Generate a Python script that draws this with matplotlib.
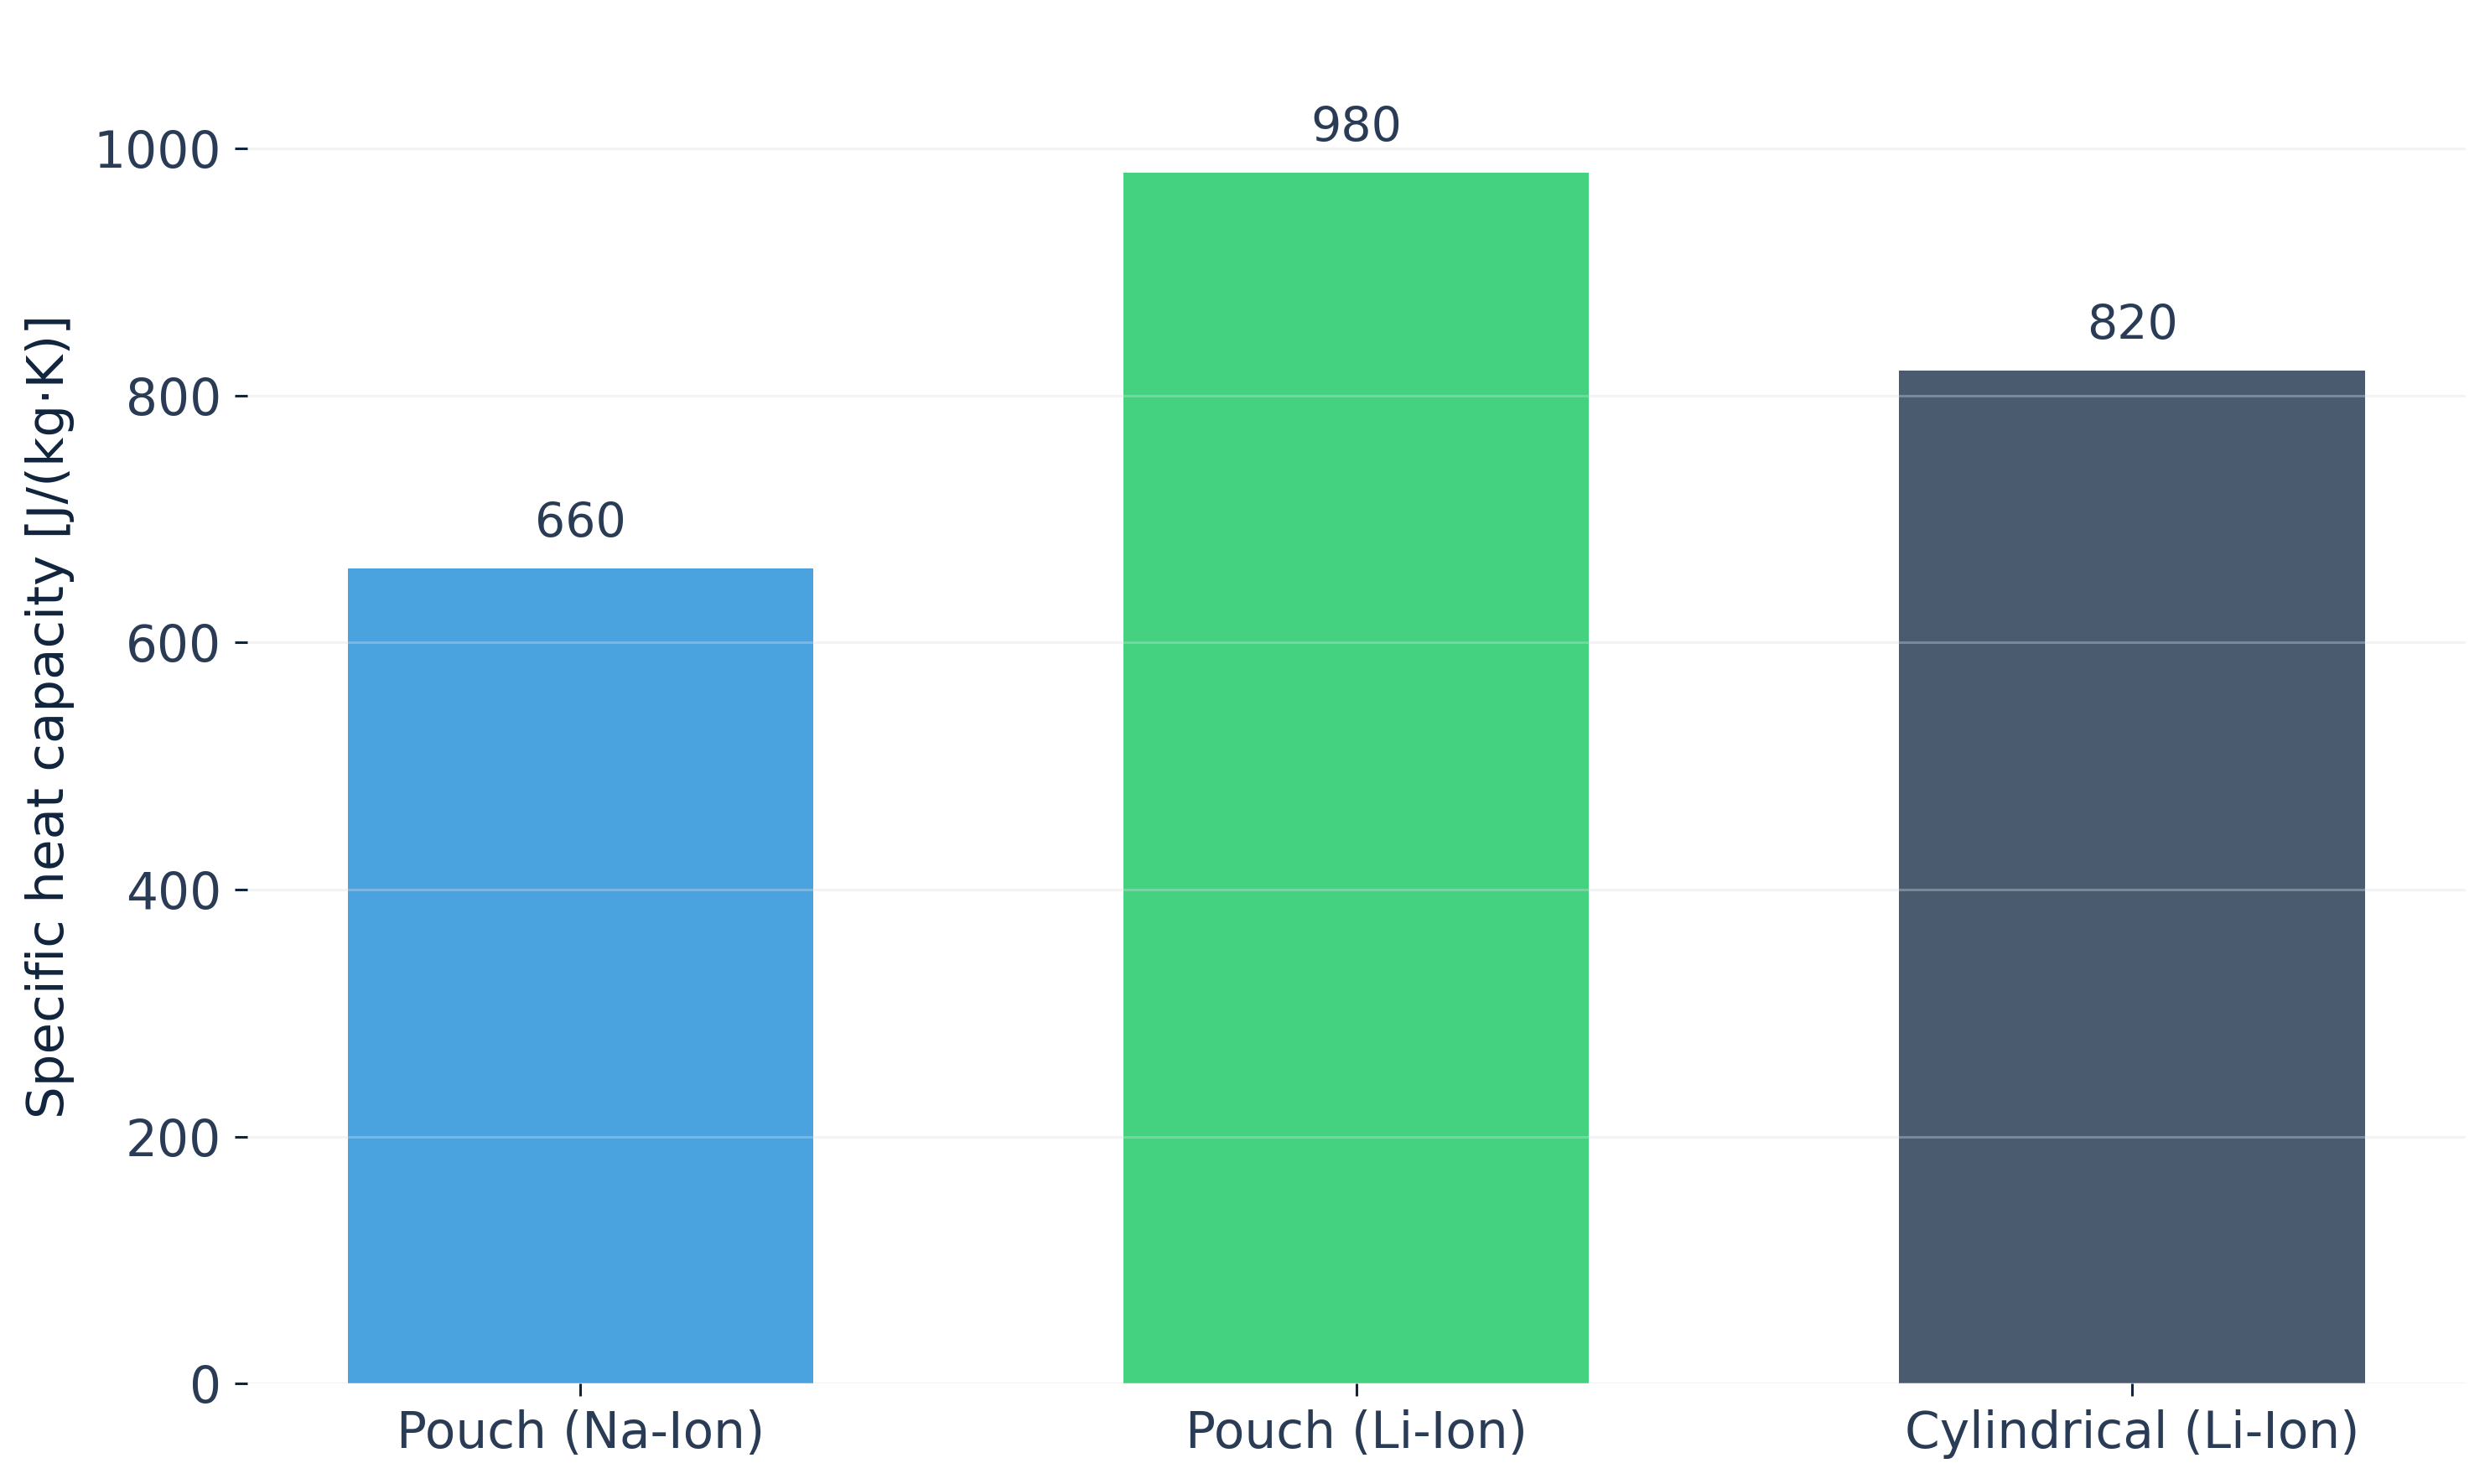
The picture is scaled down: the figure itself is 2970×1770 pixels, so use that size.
import numpy as np
import matplotlib.pyplot as plt

# data
cells = ["Pouch (Na-Ion)", "Pouch (Li-Ion)", "Cylindrical (Li-Ion)"]
cp_values = [660, 980, 820]
bar_colors = ["#4aa2df", "#44d180", "#4a5b70"]
y_ticks = [0, 200, 400, 600, 800, 1000]

TXT = "#2a3c55"
fs = 21.5

plt.rcParams['font.family'] = ['DejaVu Sans']

fig = plt.figure(figsize=(14.85, 8.85), dpi=200)
ax = fig.add_axes([0.0992, 0.0676, 0.891, 0.899])

x = np.arange(len(cells))
bars = ax.bar(x, cp_values, width=0.6, color=bar_colors, zorder=1)

for b, v in zip(bars, cp_values):
    ax.annotate("%d" % v, (b.get_x() + b.get_width() / 2, v),
                xytext=(0, 9), textcoords="offset points",
                ha="center", va="bottom", fontsize=fs - 1, color=TXT)

ax.set_xticks(x)
ax.set_xticklabels(cells)
ax.set_yticks(y_ticks)
ax.set_ylim(0, 1080)
ax.set_ylabel("Specific heat capacity [J/(kg·K)]", fontsize=fs + 0.5,
              color="#10243d", labelpad=8)

ax.tick_params(axis="both", labelsize=fs, colors="#10243d", labelcolor=TXT,
               length=5.5, width=1.1, pad=5.5)

for s in ax.spines.values():
    s.set_visible(False)

ax.grid(axis="y", color="#d8dde3", alpha=0.35, linewidth=1.1, zorder=3)
ax.set_axisbelow(False)

fig.savefig("out.png", dpi=200, facecolor="white")
